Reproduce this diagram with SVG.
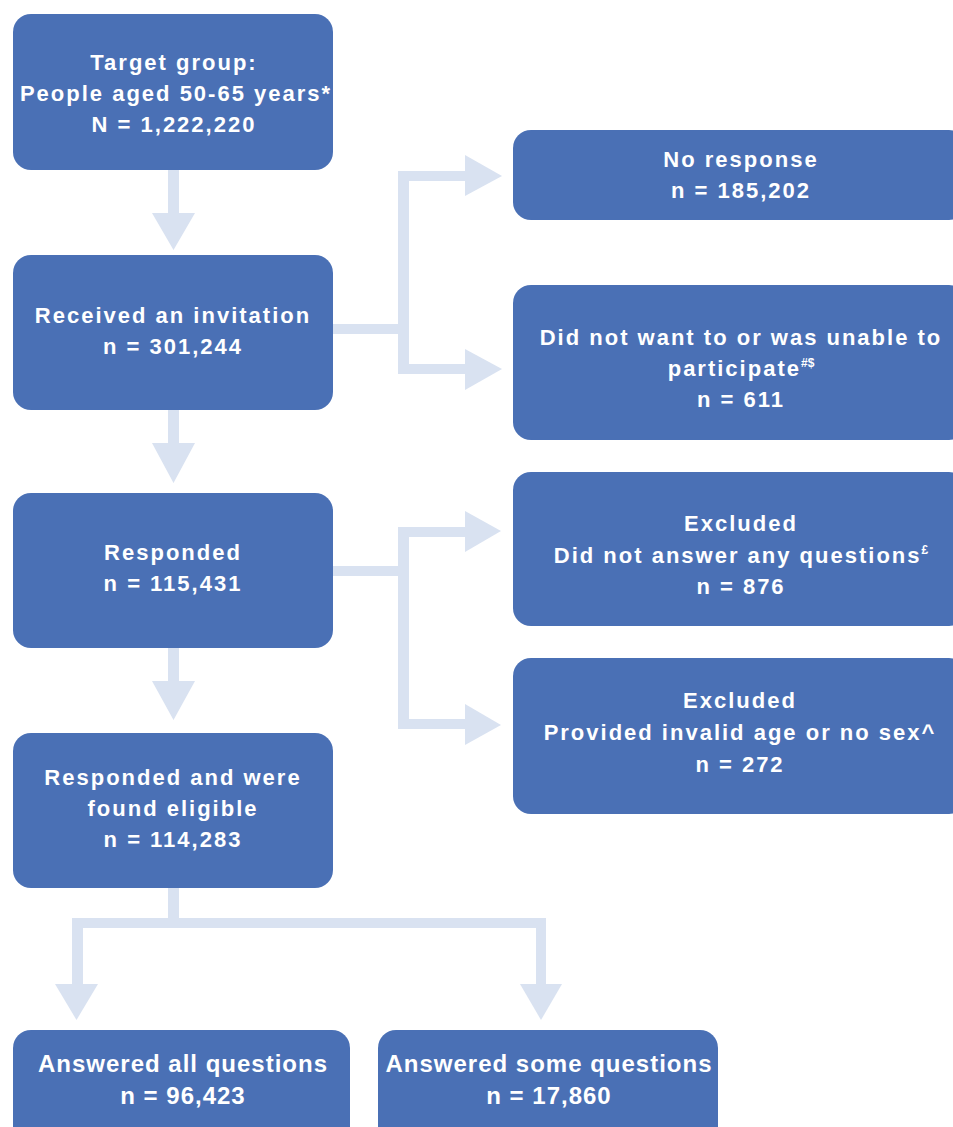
<svg xmlns="http://www.w3.org/2000/svg" width="953" height="1127" viewBox="0 0 953 1127">
<style>
.box{fill:#4a70b5;}
.t{font-family:"Liberation Sans",Arial,sans-serif;font-weight:bold;font-size:22px;letter-spacing:2px;fill:#ffffff;text-anchor:middle;}
.tb{font-family:"Liberation Sans",Arial,sans-serif;font-weight:bold;font-size:24px;letter-spacing:1px;fill:#ffffff;text-anchor:middle;}
.sup{font-size:12px;letter-spacing:0px;}
.c{fill:#d9e2f1;}
</style>
<rect width="953" height="1127" fill="#ffffff"/>
<g id="connectors" class="c">
  <polygon points="168,170 179,170 179,213 195,213 173.5,250 152,213 168,213"/>
  <polygon points="168,410 179,410 179,443 195,443 173.5,483 152,443 168,443"/>
  <polygon points="168,648 179,648 179,681 195,681 173.5,720 152,681 168,681"/>
  <rect x="333" y="324" width="70" height="10"/>
  <rect x="398" y="171" width="11" height="203"/>
  <rect x="398" y="171" width="70" height="10"/>
  <polygon points="465,155 502,176 465,196"/>
  <rect x="398" y="364" width="70" height="10"/>
  <polygon points="465,349 502,369 465,390"/>
  <rect x="333" y="566" width="70" height="10"/>
  <rect x="398" y="527" width="11" height="202"/>
  <rect x="398" y="527" width="70" height="10"/>
  <polygon points="465,511 501,531 465,552"/>
  <rect x="398" y="719" width="70" height="10"/>
  <polygon points="465,704 501,725 465,745"/>
  <rect x="168" y="888" width="11" height="40"/>
  <rect x="72" y="918" width="474" height="10"/>
  <rect x="72" y="918" width="11" height="68"/>
  <polygon points="55,984 98,984 76.5,1020"/>
  <rect x="536" y="918" width="10" height="68"/>
  <polygon points="520,984 562,984 541,1020"/>
</g>
<g id="target">
  <rect class="box" x="13" y="14" width="320" height="156" rx="18"/>
  <text class="t" x="174" y="70">Target group:</text>
  <text class="t" x="176" y="101">People aged 50-65 years*</text>
  <text class="t" x="174" y="132">N = 1,222,220</text>
</g>
<g id="invited">
  <rect class="box" x="13" y="255" width="320" height="155" rx="18"/>
  <text class="t" x="173" y="323">Received an invitation</text>
  <text class="t" x="173" y="354">n = 301,244</text>
</g>
<g id="responded">
  <rect class="box" x="13" y="493" width="320" height="155" rx="18"/>
  <text class="t" x="173" y="560">Responded</text>
  <text class="t" x="173" y="591">n = 115,431</text>
</g>
<g id="eligible">
  <rect class="box" x="13" y="733" width="320" height="155" rx="18"/>
  <text class="t" x="173" y="785">Responded and were</text>
  <text class="t" x="173" y="816">found eligible</text>
  <text class="t" x="173" y="847">n = 114,283</text>
</g>
<g id="noresponse">
  <rect class="box" x="513" y="130" width="454" height="90" rx="18"/>
  <text class="t" x="741" y="167">No response</text>
  <text class="t" x="741" y="198">n = 185,202</text>
</g>
<g id="unable">
  <rect class="box" x="513" y="285" width="454" height="155" rx="18"/>
  <text class="t" x="741" y="345">Did not want to or was unable to</text>
  <text class="t" x="741" y="376">participate<tspan class="sup" dy="-9">#$</tspan></text>
  <text class="t" x="741" y="407">n = 611</text>
</g>
<g id="excluded1">
  <rect class="box" x="513" y="472" width="454" height="154" rx="18"/>
  <text class="t" x="741" y="531">Excluded</text>
  <text class="t" x="741" y="563">Did not answer any questions<tspan class="sup" dy="-9">£</tspan></text>
  <text class="t" x="741" y="594">n = 876</text>
</g>
<g id="excluded2">
  <rect class="box" x="513" y="658" width="454" height="156" rx="18"/>
  <text class="t" x="740" y="708">Excluded</text>
  <text class="t" x="740" y="740">Provided invalid age or no sex^</text>
  <text class="t" x="740" y="772">n = 272</text>
</g>
<g id="allq">
  <rect class="box" x="13" y="1030" width="337" height="120" rx="18"/>
  <text class="tb" x="183" y="1072">Answered all questions</text>
  <text class="tb" x="183" y="1104">n = 96,423</text>
</g>
<g id="someq">
  <rect class="box" x="378" y="1030" width="340" height="120" rx="18"/>
  <text class="tb" x="549" y="1072">Answered some questions</text>
  <text class="tb" x="549" y="1104">n = 17,860</text>
</g>
</svg>
